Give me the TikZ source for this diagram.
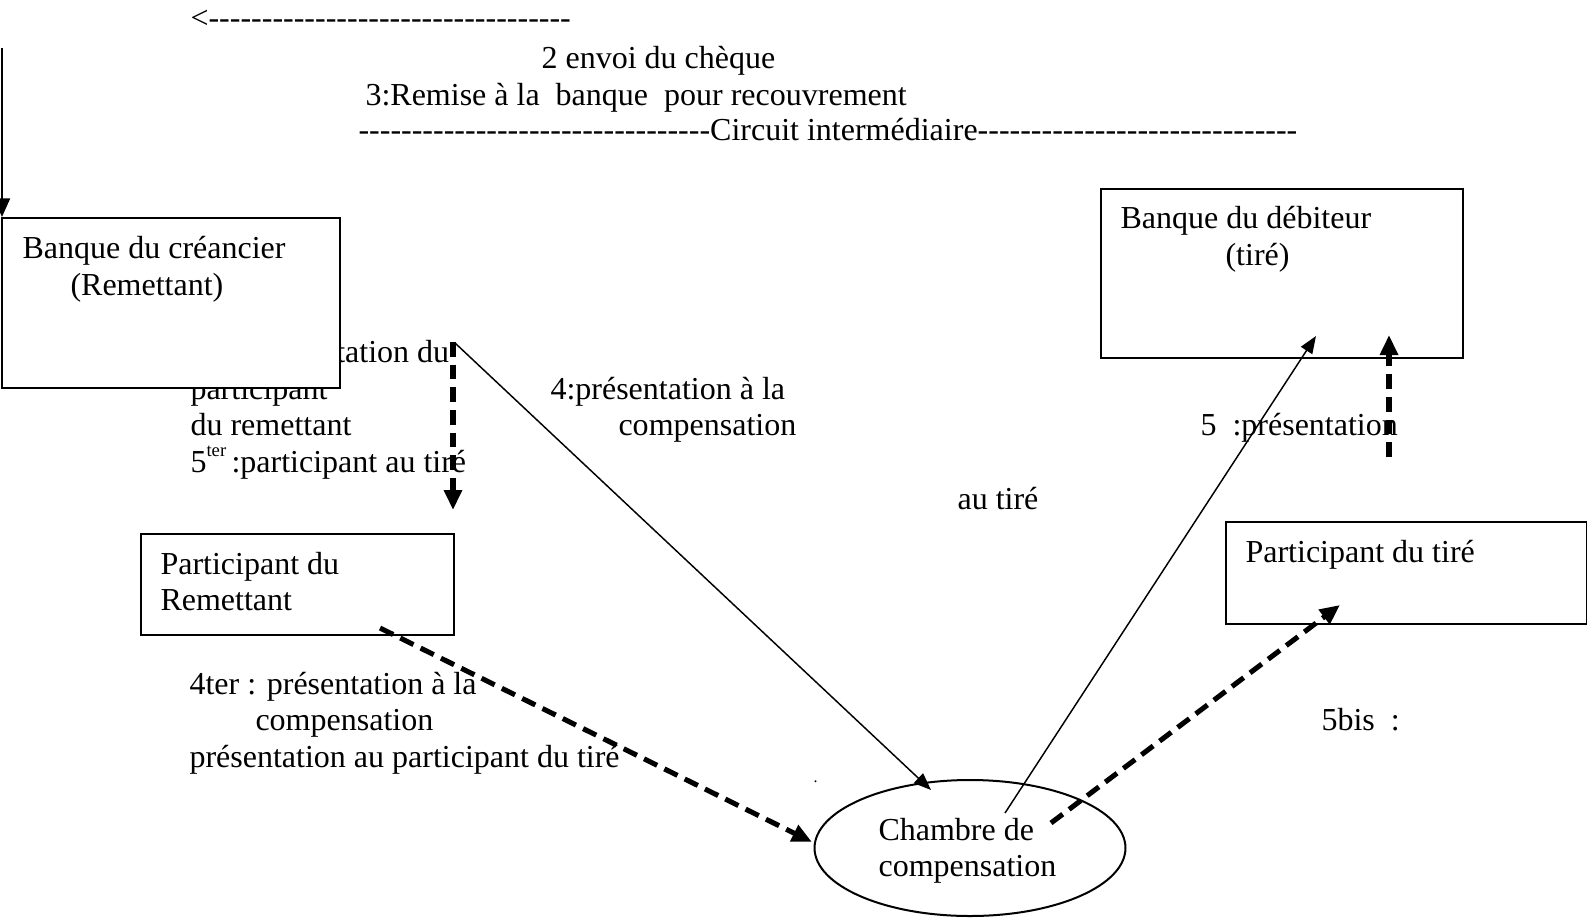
\documentclass[tikz,border=0pt]{standalone}
\usepackage{fontspec}
\setmainfont{Liberation Serif}[Ligatures=TeXOff]
\usetikzlibrary{arrows.meta,shapes.geometric}

\begin{document}
\begin{tikzpicture}[x=0.375pt,y=-0.375pt,
        every node/.style={font=\fontsize{12pt}{13.8pt}\selectfont},
        lbl/.style={anchor=base west, inner sep=0pt},
        box/.style={draw, rectangle, line width=0.75pt, fill=white, anchor=north west, inner sep=0pt},
        thinarrow/.style={line width=0.55pt, -{Triangle[length=6.5pt,width=5pt]}},
        boldarrow/.style={line width=1.9pt, dash pattern=on 5.5pt off 3pt, -{Triangle[length=7.5pt,width=6.5pt]}}]
        \useasboundingbox (0,0) rectangle (1587,917);

        % Top lines
        \node[lbl] (retour) at (190,28) {<----------------------------------};
        \node[lbl] (envoi) at (541,68) {2 envoi du chèque};
        \node[lbl] (remise) at (365,105) {3:Remise à la\ \ banque\ \ pour recouvrement};
        \node[lbl] (circuit) at (358,140) {---------------------------------Circuit intermédiaire------------------------------};

        % Text under the creditor bank (partly hidden by the box)
        \node[lbl] (pres1) at (190,362) {4bis:présentation du};
        \node[lbl] (pres2) at (190,399) {participant};
        \node[lbl] (pres3) at (190,435) {du remettant};
        \node[lbl] (pres4) at (190,472) {5\raisebox{0.5em}{\fontsize{7pt}{7pt}\selectfont ter}\hspace{2pt}:participant au tiré};

        % Boxes
        \node[box, minimum width=126.75pt, minimum height=63.75pt] (bqcr) at (1,217) {};
        \node[lbl] (bqcrA) at (22,258) {Banque du créancier};
        \node[lbl] (bqcrB) at (70,295) {(Remettant)};

        \node[box, minimum width=117.4pt, minimum height=37.9pt] (partrem) at (140,533) {};
        \node[lbl] (partremA) at (160,574) {Participant du};
        \node[lbl] (partremB) at (160,610) {Remettant};

        \node[box, minimum width=135.75pt, minimum height=63.4pt] (bqdeb) at (1100,188) {};
        \node[lbl] (bqdebA) at (1120,228) {Banque du débiteur};
        \node[lbl] (bqdebB) at (1225,265) {(tiré)};

        \node[box, minimum width=135.4pt, minimum height=38.25pt] (parttire) at (1225,521) {};
        \node[lbl] (parttireA) at (1245,562) {Participant du tiré};

        \node[draw, ellipse, line width=0.75pt, minimum width=116.6pt, minimum height=51pt, inner sep=0pt] (chambre) at (970,848) {};
        \node[lbl] (chambreA) at (878,840) {Chambre de};
        \node[lbl] (chambreB) at (878,876) {compensation};

        % Other labels
        \node[lbl] (comp1) at (550,399) {4:présentation à la};
        \node[lbl] (comp2) at (618,435) {compensation};
        \node[lbl] (ter1) at (189,694) {4ter : présentation à la};
        \node[lbl] (ter2) at (255,730) {compensation};
        \node[lbl] (ter3) at (189,767) {présentation au participant du tiré};
        \node[lbl] (cinq) at (1200,435) {5\ \ :présentation};
        \node[lbl] (autire) at (957,509) {au tiré};
        \node[lbl] (bis) at (1321,730) {5bis\ \ :};
        \node[lbl, font=\fontsize{6pt}{7pt}\selectfont] (point) at (813,782) {.};

        % Arrow ends
        \coordinate (hautA) at (2,48);
        \coordinate (hautB) at (2,217);
        \coordinate (verA) at (453,342);
        \coordinate (verB) at (453,510);
        \coordinate (diagA) at (455,343);
        \coordinate (diagB) at (931,790);
        \coordinate (remA) at (380,628);
        \coordinate (remB) at (812,842);
        \coordinate (chA) at (1005,813);
        \coordinate (chB) at (1316,336);
        \coordinate (chC) at (1051,823);
        \coordinate (chD) at (1340,605);
        \coordinate (debA) at (1389,457);
        \coordinate (debB) at (1389,335);

        % Arrows
        \draw[line width=0.75pt, -{Triangle[length=7pt,width=6pt]}] (hautA) -- (hautB);
        \draw[boldarrow] (verA) -- (verB);
        \draw[thinarrow] (diagA) -- (diagB);
        \draw[boldarrow] (remA) -- (remB);
        \draw[thinarrow] (chA) -- (chB);
        \draw[boldarrow] (chC) -- (chD);
        \draw[boldarrow] (debA) -- (debB);
    \end{tikzpicture}
\end{document}
